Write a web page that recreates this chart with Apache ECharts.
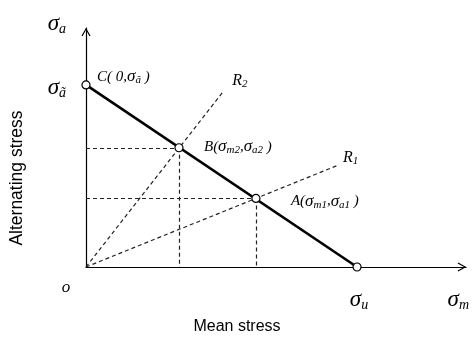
<!DOCTYPE html>
<html>
<head>
<meta charset="utf-8">
<script src="https://cdn.jsdelivr.net/npm/echarts@6/dist/echarts.min.js"></script>
<style>html,body{margin:0;padding:0;background:#fff}#c{width:474px;height:351px}</style>
</head>
<body>
<div id="c"></div>
<script>
// Data (normalized stress units: sigma_u = 100)
const sigmaU = 100;
const sigmaAtilde = 67.2;
const axisMaxX = 140.2;
const axisMaxY = 88.2;
const pointNames = ['C', 'B', 'A', 'U'];
const pointX = [0, 34.3, 62.7, 100];
const pointY = [67.2, 44.0, 25.3, 0];
const rayNames = ['R2', 'R1'];
const rayEndX = [50.6, 92.6];
const rayEndY = [64.7, 37.4];

const serif = 'Liberation Serif';
const rich = {
  i: {fontFamily: serif, fontStyle: 'italic', fontSize: 15, color: '#000', lineHeight: 18, verticalAlign: 'middle'},
  g: {fontFamily: serif, fontStyle: 'italic', fontSize: 17, color: '#000', lineHeight: 18, verticalAlign: 'middle'},
  s: {fontFamily: serif, fontStyle: 'italic', fontSize: 11, color: '#000', lineHeight: 10, verticalAlign: 'bottom'},
  G: {fontFamily: serif, fontStyle: 'italic', fontSize: 23, color: '#000', lineHeight: 24, verticalAlign: 'middle'},
  S: {fontFamily: serif, fontStyle: 'italic', fontSize: 14, color: '#000', lineHeight: 12, verticalAlign: 'bottom'},
  r: {fontFamily: serif, fontStyle: 'italic', fontSize: 16, color: '#000', lineHeight: 18, verticalAlign: 'middle'},
  o: {fontFamily: serif, fontStyle: 'italic', fontSize: 17, color: '#000', lineHeight: 18, verticalAlign: 'middle'}
};

const idx = n => pointNames.indexOf(n);
const P = n => [pointX[idx(n)], pointY[idx(n)]];

// dashed segments
const dashed = [];
rayNames.forEach((n, k) => dashed.push({coords: [[0, 0], [rayEndX[k], rayEndY[k]]]}));
['B', 'A'].forEach(n => {
  const p = P(n);
  dashed.push({coords: [[0, p[1]], p]});
  dashed.push({coords: [p, [p[0], 0]]});
});

function lab(value, text, dx, dy, align) {
  return {value: value, label: {show: true, formatter: text, position: [dx, dy], align: align, verticalAlign: 'middle', rich: rich}};
}
const labels = [
  lab(P('C'), '{i|C(}{i| 0,}{g|σ}{s|ã}{i| )}', 11, -8, 'left'),
  lab(P('C'), '{G|σ}{S|ã}', -20, 3, 'right'),
  lab(P('B'), '{i|B(}{g|σ}{s|m2}{i|,}{g|σ}{s|a2}{i| )}', 25, -1, 'left'),
  lab(P('A'), '{i|A(}{g|σ}{s|m1}{i|,}{g|σ}{s|a1}{i| )}', 35, 3, 'left'),
  lab([rayEndX[0], rayEndY[0]], '{r|R}{s|2}', 9, -11, 'left'),
  lab([rayEndX[1], rayEndY[1]], '{r|R}{s|1}', 6, -8, 'left'),
  lab(P('U'), '{G|σ}{S|u}', 2, 33, 'center'),
  lab([axisMaxX, 0], '{G|σ}{S|m}', 3, 33, 'right'),
  lab([0, 0], '{o|o}', -20, 21, 'center'),
  lab([0, axisMaxY], '{G|σ}{S|a}', -20, -4, 'right')
];

const chevron = 'path://M5,0 L10,9 L8.8,9.6 L5,2.6 L1.2,9.6 L0,9 Z';
const axisCommon = {
  type: 'value', min: 0,
  splitLine: {show: false}, axisTick: {show: false}, axisLabel: {show: false},
  axisLine: {show: true, lineStyle: {color: '#000', width: 1.2}, symbol: ['none', chevron], symbolSize: [9, 9], symbolOffset: [0, -4]}
};

const chart = echarts.init(document.getElementById('c'), null, {renderer: 'canvas'});
chart.setOption({
  animation: false,
  backgroundColor: '#fff',
  grid: {left: 86, right: 8, top: 28, bottom: 84, containLabel: false},
  xAxis: Object.assign({}, axisCommon, {max: axisMaxX}),
  yAxis: Object.assign({}, axisCommon, {max: axisMaxY}),
  graphic: [
    {type: 'text', x: 237, y: 327, style: {text: 'Mean stress', font: '16px "Liberation Sans"', fill: '#000', align: 'center', verticalAlign: 'middle'}},
    {type: 'text', x: 17, y: 178, rotation: Math.PI / 2, style: {text: 'Alternating stress', font: '17.5px "Liberation Sans"', fill: '#000', align: 'center', verticalAlign: 'middle'}}
  ],
  series: [
    {type: 'lines', coordinateSystem: 'cartesian2d', polyline: false, silent: true, z: 2,
     lineStyle: {color: '#222', width: 1.2, type: [4, 3], opacity: 1}, data: dashed},
    {type: 'line', symbol: 'none', silent: true, z: 3,
     lineStyle: {color: '#000', width: 2.6}, data: [[0, sigmaAtilde], [sigmaU, 0]]},
    {type: 'scatter', symbol: 'circle', symbolSize: 8, silent: true, z: 4,
     itemStyle: {color: '#fff', borderColor: '#000', borderWidth: 1.2, opacity: 1},
     data: pointNames.map((n, k) => [pointX[k], pointY[k]])},
    {type: 'scatter', symbolSize: 0, silent: true, z: 5, itemStyle: {opacity: 1},
     label: {color: '#000', opacity: 1}, data: labels}
  ]
});
</script>
</body>
</html>
